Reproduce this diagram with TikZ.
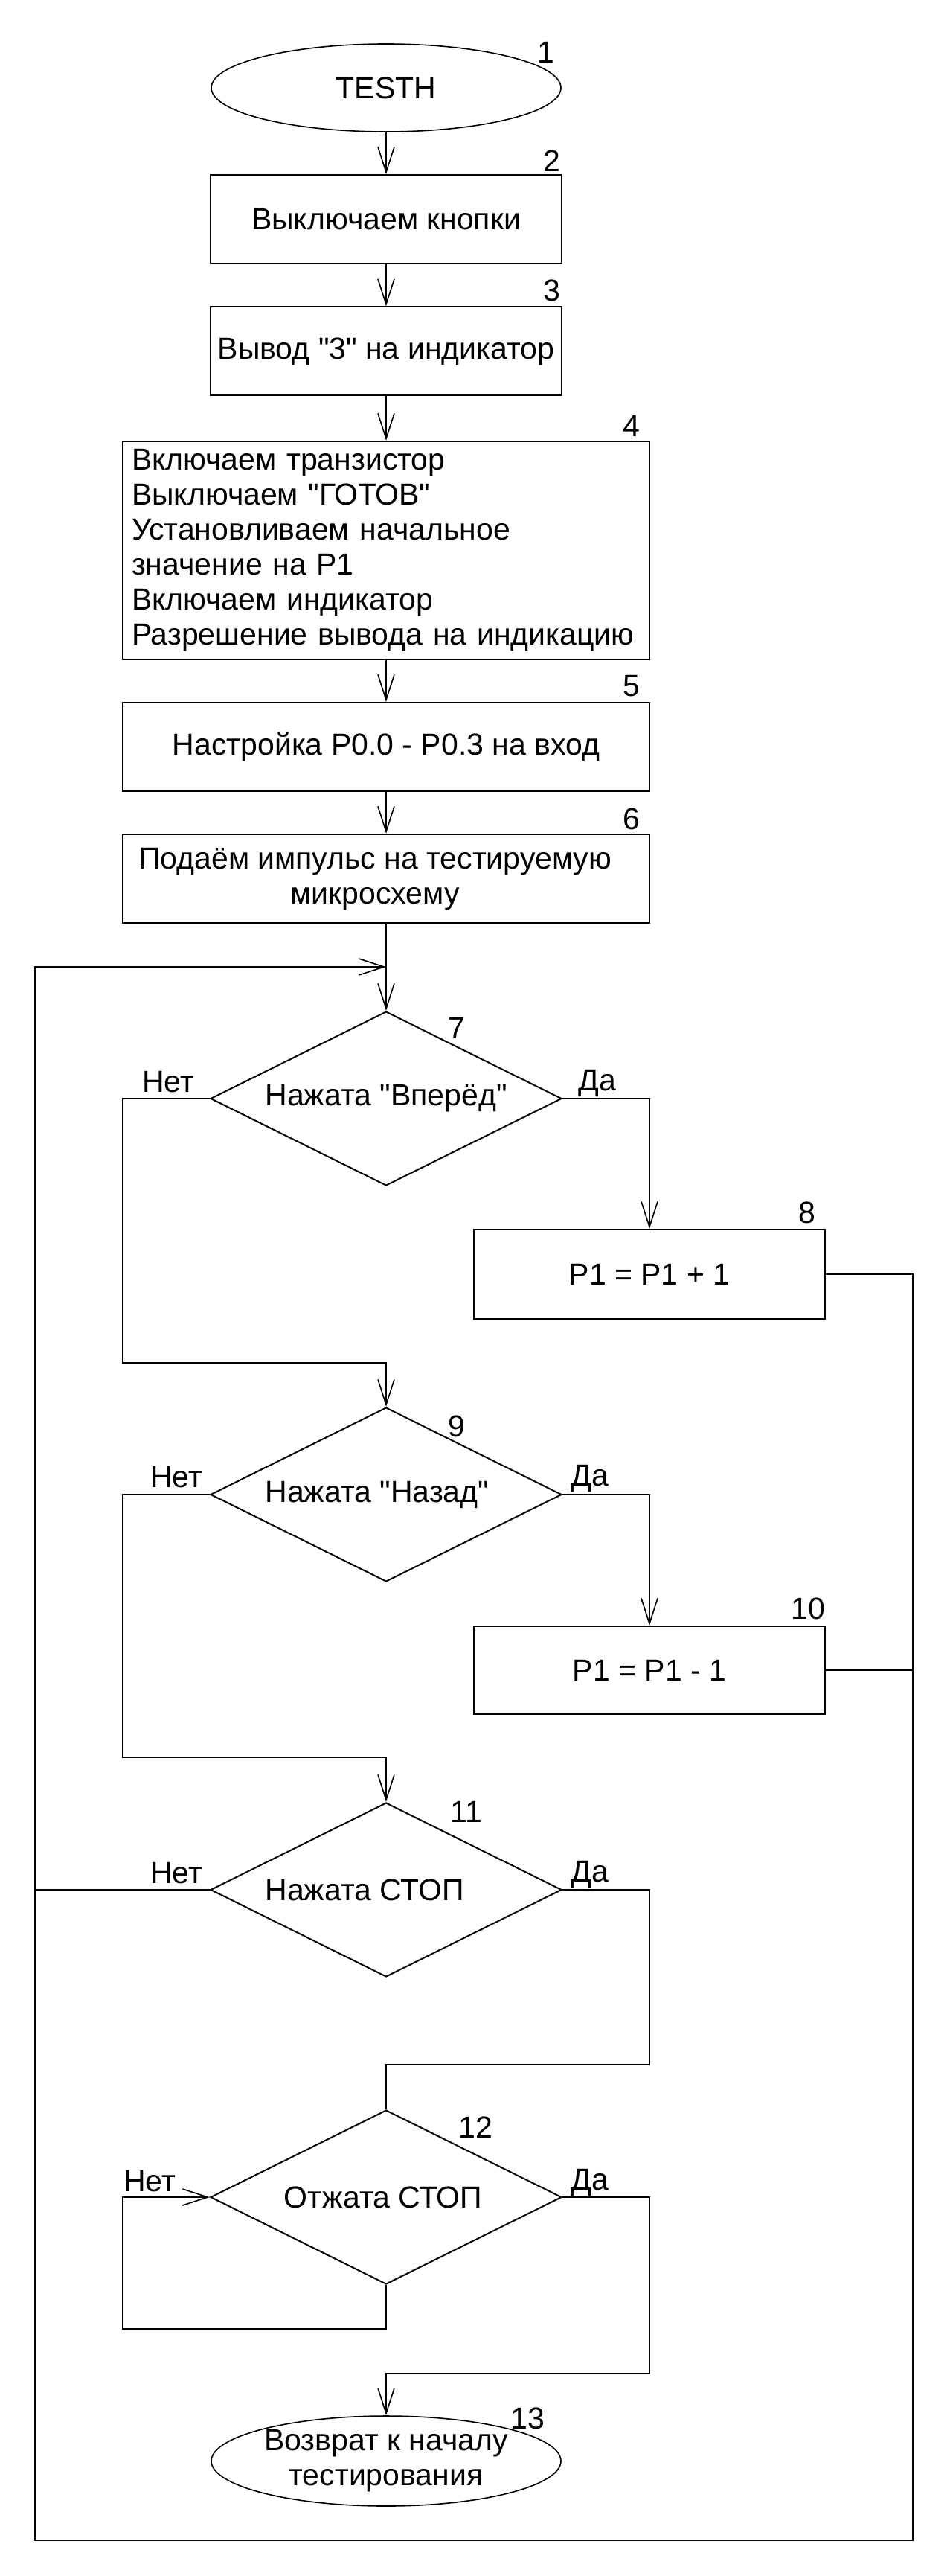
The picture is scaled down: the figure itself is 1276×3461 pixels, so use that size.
\documentclass[tikz,border=0pt]{standalone}
\usepackage{fontspec}
\setmainfont{Liberation Sans}[Ligatures=TeXOff]
\usetikzlibrary{shapes.geometric,arrows.meta}
\begin{document}
\begin{tikzpicture}[x=0.5pt,y=-0.5pt,
  font=\fontsize{20.5}{23.5}\selectfont,
  blk/.style={draw, line width=1pt, rectangle, inner sep=0pt, minimum width=236pt, minimum height=59.5pt},
  wblk/.style={draw, line width=1pt, rectangle, inner sep=0pt, minimum width=354pt, minimum height=59.5pt},
  oval/.style={draw, line width=0.8pt, ellipse, inner sep=0pt, minimum width=235pt, minimum height=59pt},
  dia/.style={draw, line width=1pt, diamond, aspect=2.02, inner sep=0pt, minimum width=236pt, minimum height=117pt},
  num/.style={inner sep=0pt},
  ln/.style={line width=0.8pt},
  arr/.style={line width=0.8pt, -{Straight Barb[length=17pt, width=11pt, line width=0.8pt]}}
]
\useasboundingbox (0,0) rectangle (1276,3461);

% nodes
\node[oval] (e1) at (519,118) {TESTH};
\node[blk] (b2) at (519,294.5) {Выключаем кнопки};
\node[blk] (b3) at (519,472) {Вывод "3" на индикатор};
\node[wblk, minimum height=146.5pt, text width=342pt, inner xsep=6pt, align=left] (b4) at (519,739.5)
  {Включаем транзистор\\Выключаем "ГОТОВ"\\Установливаем начальное\\значение на P1\\Включаем индикатор\\Разрешение вывода на индикацию};
\node[wblk] (b5) at (519,1003.5) {Настройка P0.0 - P0.3 на вход};
\node[wblk] (b6) at (519,1180.5) {};
\node[align=center, inner sep=0pt] (t6) at (504,1181) {Подаём импульс на тестируемую\\микросхему};

\node[dia] (d7) at (519,1476) {};
\node[anchor=west, inner sep=0pt] (t7) at (356,1476) {Нажата "Вперёд"};
\node[blk, minimum height=60pt] (b8) at (873,1712) {P1 = P1 + 1};
\node[dia] (d9) at (519,2008) {};
\node[anchor=west, inner sep=0pt] (t9) at (356,2008) {Нажата "Назад"};
\node[blk, minimum height=59pt] (b10) at (873,2244) {P1 = P1 - 1};
\node[dia] (d11) at (519,2539) {};
\node[anchor=west, inner sep=0pt] (t11) at (356,2539) {Нажата СТОП};
\node[dia] (d12) at (519,2952) {};
\node[inner sep=0pt] (t12) at (515,2952) {Отжата СТОП};
\node[oval, minimum height=60.5pt, align=center] (e13) at (519,3306.5) {Возврат к началу\\тестирования};

% numbers
\node[num] (n1) at (734,70) {1};
\node[num] (n2) at (742,216) {2};
\node[num] (n3) at (742,390) {3};
\node[num] (n4) at (849,572) {4};
\node[num] (n5) at (849,922) {5};
\node[num] (n6) at (849,1100) {6};
\node[num] (n7) at (614,1381) {7};
\node[num] (n8) at (1085,1629) {8};
\node[num] (n9) at (614,1916) {9};
\node[num] (n10) at (1086,2161) {10};
\node[num] (n11) at (627,2434) {11};
\node[num] (n12) at (639,2858) {12};
\node[num] (n13) at (709,3249) {13};

% yes / no
\node[num] (no7) at (226,1454) {Нет};
\node[num] (yes7) at (803,1455) {Да};
\node[num] (no9) at (237,1985) {Нет};
\node[num] (yes9) at (793,1986) {Да};
\node[num] (no11) at (237,2517) {Нет};
\node[num] (yes11) at (793,2518) {Да};
\node[num] (no12) at (201,2931) {Нет};
\node[num] (yes12) at (793,2932) {Да};

% helper coordinates
\coordinate (j) at (519,1299);
\coordinate (rbot) at (1227,3413);
\coordinate (lbot) at (47,3413);
\coordinate (l7) at (165,1831);
\coordinate (l9) at (165,2361);
\coordinate (r11) at (873,2774);
\coordinate (l12) at (165,3129);
\coordinate (r12) at (873,3189);

% connectors
\draw[arr] (e1.south) -- (b2.north);
\draw[arr] (b2.south) -- (b3.north);
\draw[arr] (b3.south) -- (b4.north);
\draw[arr] (b4.south) -- (b5.north);
\draw[arr] (b5.south) -- (b6.north);
\draw[arr] (b6.south) -- (d7.north);
\draw[arr] (b8.east) -| (rbot) -- (lbot) |- (j);
\draw[ln] (b10.east) -- (b10.east -| rbot);
\draw[ln] (d11.west) -- (d11.west -| lbot);
\draw[arr] (d7.east) -| (b8.north);
\draw[arr] (d7.west) -| (l7) -| (d9.north);
\draw[arr] (d9.east) -| (b10.north);
\draw[arr] (d9.west) -| (l9) -| (d11.north);
\draw[ln] (d11.east) -| (r11) -| (d12.north);
\draw[arr] (d12.south) |- (l12) |- (d12.west);
\draw[arr] (d12.east) -| (r12) -| (e13.north);
\end{tikzpicture}
\end{document}
